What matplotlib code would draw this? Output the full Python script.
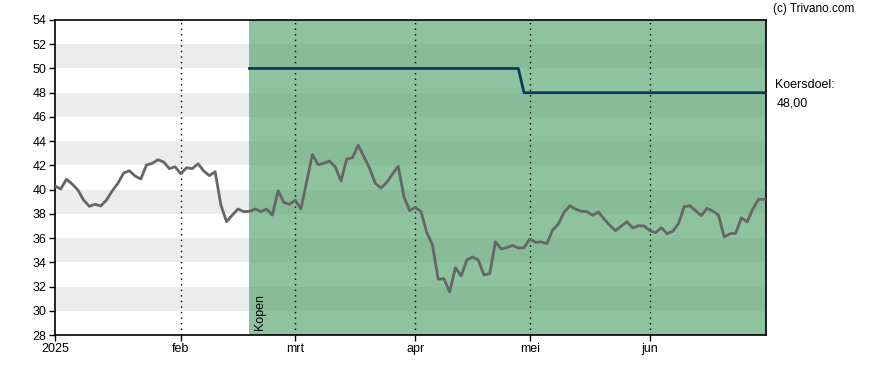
import matplotlib
matplotlib.use("Agg")
import matplotlib.pyplot as plt
import numpy as np

plt.rcParams['font.family'] = ['Liberation Sans', 'DejaVu Sans']

# Price series (trading-day index 0..124, Jan-Jun 2025)
prices = [
    40.30, 40.05, 40.85, 40.46, 39.97, 39.14, 38.62, 38.79, 38.65, 39.14,
    39.89, 40.52, 41.37, 41.56, 41.12, 40.88, 42.03, 42.17, 42.47, 42.28,
    41.73, 41.89, 41.31, 41.81, 41.73, 42.14, 41.54, 41.15, 41.48, 38.73,
    37.35, 37.90, 38.40, 38.18, 38.21, 38.40, 38.18, 38.40, 37.90, 39.91,
    38.95, 38.79, 39.12, 38.40, 40.65, 42.91, 42.06, 42.17, 42.36, 41.87,
    40.71, 42.53, 42.64, 43.66, 42.72, 41.76, 40.52, 40.13, 40.60, 41.29,
    41.92, 39.42, 38.26, 38.54, 38.18, 36.45, 35.43, 32.60, 32.65, 31.55,
    33.56, 32.87, 34.19, 34.44, 34.19, 32.95, 33.06, 35.70, 35.10, 35.21,
    35.40, 35.18, 35.21, 35.92, 35.65, 35.68, 35.54, 36.67, 37.16, 38.13,
    38.67, 38.40, 38.21, 38.18, 37.88, 38.15, 37.57, 37.05, 36.61, 36.99,
    37.35, 36.83, 37.02, 36.99, 36.61, 36.45, 36.86, 36.36, 36.56, 37.19,
    38.60, 38.67, 38.26, 37.85, 38.46, 38.23, 37.90, 36.09, 36.36, 36.39,
    37.68, 37.33, 38.40, 39.20, 39.20,
]

# Analyst target (koersdoel)
target_idx = [34, 81, 82, 124]
target_vals = [50, 50, 48, 48]

# Advice region
advice_start = 34
advice_label = "Kopen"

# Month ticks (trading-day index)
month_idx = [0, 22, 42, 63, 83, 104]
month_labels = ["2025", "feb", "mrt", "apr", "mei", "jun"]

y_ticks = list(range(28, 55, 2))
stripe_starts = [30, 34, 38, 42, 46, 50]

W, H = 888, 370
fig = plt.figure(figsize=(W / 100, H / 100), dpi=100)
left, right, top, bottom = 55, 765.7, 20, 335
ax = fig.add_axes([left / W, 1 - bottom / H, (right - left) / W, (bottom - top) / H])

x = np.arange(len(prices))
xmax = 124.25
ax.set_xlim(0, xmax)
ax.set_ylim(28, 54)

for s in stripe_starts:
    ax.axhspan(s, s + 2, color='#ececec', lw=0, zorder=0)

ax.axvspan(advice_start, xmax, color='#4ea068', alpha=0.63, lw=0, zorder=1)

for m in month_idx[1:]:
    ax.axvline(m, color='black', lw=1, ls=(0, (1, 3)), zorder=2)

ax.plot(x, prices, color='#666666', lw=2, zorder=4, solid_joinstyle='round')
ax.plot(target_idx, target_vals, color='#0b3a5e', lw=2, zorder=3)

ax.text(advice_start + 0.8, 28.4, advice_label, rotation=90, ha='left', va='bottom',
        fontsize=9, color='black', zorder=5)

ax.set_yticks(y_ticks)
ax.set_yticklabels([str(v) for v in y_ticks])
ax.set_xticks(month_idx)
ax.set_xticklabels(month_labels)
ax.tick_params(axis='both', labelsize=9, length=4, width=1, color='black', pad=2)
for sp in ax.spines.values():
    sp.set_color('black')
    sp.set_linewidth(1.2)

fig.text(773 / W, 1 - 9 / H, "(c) Trivano.com", fontsize=8.5, ha='left', va='center', color='black')
fig.text(775 / W, 1 - 85 / H, "Koersdoel:", fontsize=9, ha='left', va='center', color='black')
fig.text(777 / W, 1 - 103 / H, "48,00", fontsize=9, ha='left', va='center', color='black')

fig.savefig("out.png", dpi=100)
